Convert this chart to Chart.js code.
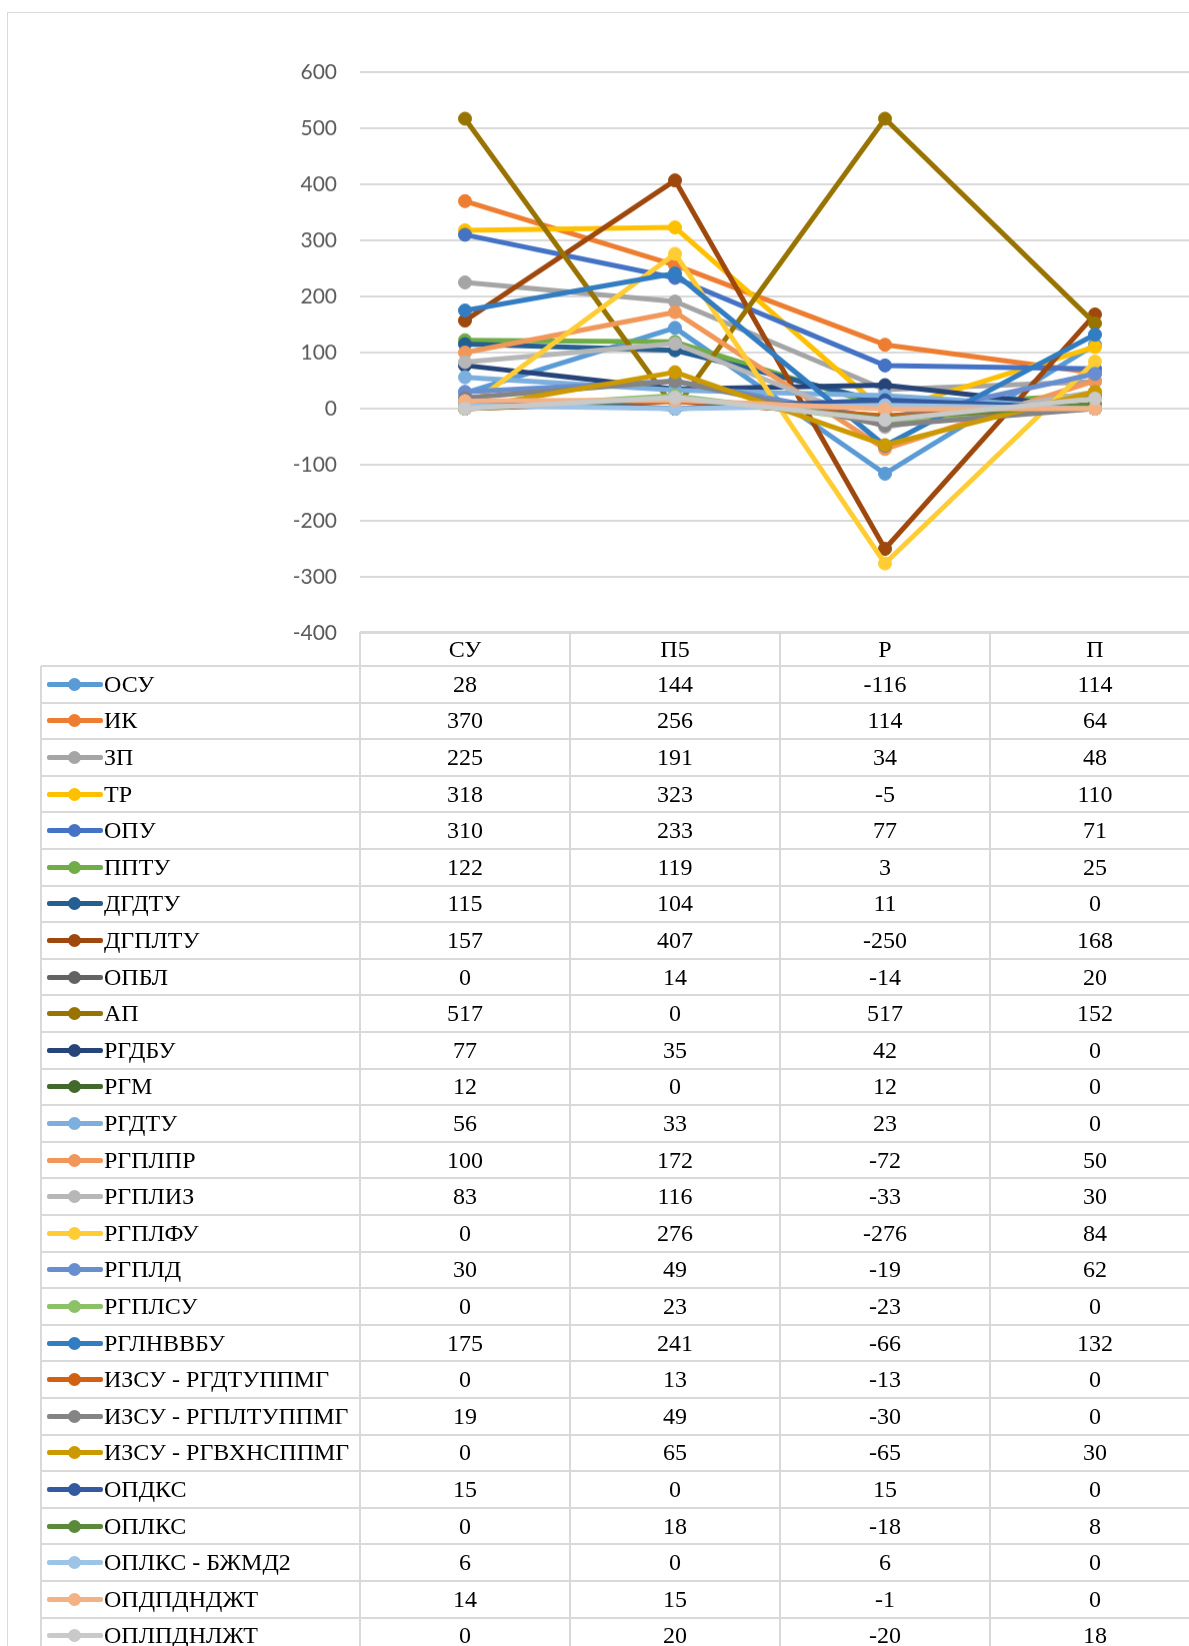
<!DOCTYPE html>
<html>
<head>
<meta charset="utf-8">
<script src="https://cdn.jsdelivr.net/npm/chart.js@4.4.1/dist/chart.umd.min.js"></script>
<style>
  body { margin: 0; width: 1189px; height: 1646px; overflow: hidden; background: #fff; position: relative; }
  #marco { position: absolute; left: 7px; top: 12px; width: 1400px; height: 1800px; border: 1px solid #d9d9d9; }
  #caja { position: absolute; left: 0; top: 0; width: 1220px; height: 640px; }
  #tabla { position: absolute; left: 0; top: 0; font-family: "Liberation Serif", "Times New Roman", serif; font-size: 24px; color: #000; }
  .celda { position: absolute; display: flex; align-items: center; justify-content: center; white-space: nowrap; }
  .nombre { justify-content: flex-start; }
  .hline { position: absolute; height: 2px; background: #d9d9d9; }
  .vline { position: absolute; width: 2px; background: #d9d9d9; }
  .marca { position: absolute; width: 56px; height: 5px; border-radius: 2px; }
  .marca span { position: absolute; left: 21px; top: -4px; width: 13px; height: 13px; border-radius: 50%; background: inherit; }
</style>
</head>
<body>
<div id="marco"></div>
<div id="caja"><canvas id="grafico"></canvas></div>
<div id="tabla"></div>
<script>
// categorias y series
const categorias = ['СУ', 'П5', 'Р', 'П'];
const nombres = ['ОСУ', 'ИК', 'ЗП', 'ТР', 'ОПУ', 'ППТУ', 'ДГДТУ', 'ДГПЛТУ', 'ОПБЛ', 'АП', 'РГДБУ', 'РГМ', 'РГДТУ',
  'РГПЛПР', 'РГПЛИЗ', 'РГПЛФУ', 'РГПЛД', 'РГПЛСУ', 'РГЛНВВБУ', 'ИЗСУ - РГДТУППМГ', 'ИЗСУ - РГПЛТУППМГ',
  'ИЗСУ - РГВХНСППМГ', 'ОПДКС', 'ОПЛКС', 'ОПЛКС - БЖМД2', 'ОПДПДНДЖТ', 'ОПЛПДНЛЖТ'];

// valores por columna (una entrada por serie)
const valoresSU = [28, 370, 225, 318, 310, 122, 115, 157, 0, 517, 77, 12, 56, 100, 83, 0, 30, 0, 175, 0, 19, 0, 15, 0, 6, 14, 0];
const valoresP5 = [144, 256, 191, 323, 233, 119, 104, 407, 14, 0, 35, 0, 33, 172, 116, 276, 49, 23, 241, 13, 49, 65, 0, 18, 0, 15, 20];
const valoresR = [-116, 114, 34, -5, 77, 3, 11, -250, -14, 517, 42, 12, 23, -72, -33, -276, -19, -23, -66, -13, -30, -65, 15, -18, 6, -1, -20];
const valoresP = [114, 64, 48, 110, 71, 25, 0, 168, 20, 152, 0, 0, 0, 50, 30, 84, 62, 0, 132, 0, 0, 30, 0, 8, 0, 0, 18];

const ejeY = { min: -400, max: 600, paso: 100 };

const colores = ['#5B9BD5', '#ED7D31', '#A5A5A5', '#FFC000', '#4472C4', '#70AD47', '#255E91', '#9E480E', '#636363',
  '#997300', '#264478', '#43682B', '#7CAFDD', '#F1975A', '#B7B7B7', '#FFCD33', '#698ED0', '#8CC168', '#327DC2',
  '#D26012', '#848484', '#CC9A00', '#335AA1', '#5A8A39', '#9DC3E6', '#F4B183', '#C9C9C9'];

const columnas = [valoresSU, valoresP5, valoresR, valoresP];

const datasets = nombres.map((n, i) => ({
  label: n,
  data: columnas.map(col => col[i]),
  borderColor: colores[i],
  backgroundColor: colores[i],
  borderWidth: 5,
  pointRadius: 6.5,
  pointBorderWidth: 1,
  borderJoinStyle: 'round',
  borderCapStyle: 'round',
  tension: 0,
  order: nombres.length - 1 - i // la ultima serie queda arriba, como en Excel
}));

const chart = new Chart(document.getElementById('grafico'), {
  type: 'line',
  data: { labels: categorias, datasets: datasets },
  options: {
    responsive: true,
    maintainAspectRatio: false,
    animation: false,
    layout: { padding: { top: 72, right: 20, bottom: 8, left: 0 } },
    plugins: { legend: { display: false }, tooltip: { enabled: false } },
    scales: {
      x: { offset: true, display: false },
      y: {
        min: ejeY.min, max: ejeY.max,
        afterFit: s => { s.width = 360; },
        border: { display: false },
        grid: { color: '#d9d9d9', lineWidth: 2, drawTicks: false },
        ticks: { stepSize: ejeY.paso, padding: 23, color: '#595959', font: { family: 'Lato', size: 21 } }
      }
    }
  }
});

// el eje x oculto igual reserva algo de alto: se agranda la caja para que el area llegue a 632
const caja = document.getElementById('caja');
const falta = 632 - chart.chartArea.bottom;
caja.style.height = (640 + falta) + 'px';
chart.resize();

// tabla de datos debajo del grafico, alineada con la escala x
const tabla = document.getElementById('tabla');
const area = chart.chartArea;
const xs = chart.scales.x;
const anchoCol = (area.right - area.left) / categorias.length;
const izq = 41;
const arriba = area.bottom;
const altoCab = 34;
const altoFila = 36.6;
const filas = nombres.length;
const fondo = arriba + altoCab + altoFila * filas;

function add(cls, css, html) {
  const d = document.createElement('div');
  d.className = cls;
  Object.assign(d.style, css);
  if (html !== undefined) d.innerHTML = html;
  tabla.appendChild(d);
  return d;
}

// lineas
add('hline', { left: area.left + 'px', top: (arriba - 1) + 'px', width: '900px' });
for (let r = 0; r <= filas; r++) {
  add('hline', { left: izq + 'px', top: (arriba + altoCab + r * altoFila - 1) + 'px', width: '1200px' });
}
add('vline', { left: (izq - 1) + 'px', top: (arriba + altoCab) + 'px', height: (fondo - arriba - altoCab) + 'px' });
for (let c = 0; c <= categorias.length; c++) {
  add('vline', { left: (area.left + c * anchoCol - 1) + 'px', top: arriba + 'px', height: (fondo - arriba) + 'px' });
}

// cabecera
categorias.forEach((cat, c) => {
  const cx = xs.getPixelForValue(c);
  add('celda', { left: (cx - anchoCol / 2) + 'px', width: anchoCol + 'px', top: arriba + 'px', height: altoCab + 'px' }, cat);
});

// filas
nombres.forEach((n, i) => {
  const top = arriba + altoCab + i * altoFila;
  const m = add('marca', { left: '47px', top: (top + altoFila / 2 - 2.5) + 'px', background: colores[i] });
  m.appendChild(document.createElement('span'));
  add('celda nombre', { left: '104px', top: top + 'px', height: altoFila + 'px' }, n);
  columnas.forEach((col, c) => {
    const cx = xs.getPixelForValue(c);
    add('celda', { left: (cx - anchoCol / 2) + 'px', width: anchoCol + 'px', top: top + 'px', height: altoFila + 'px' }, col[i]);
  });
});
</script>
</body>
</html>
